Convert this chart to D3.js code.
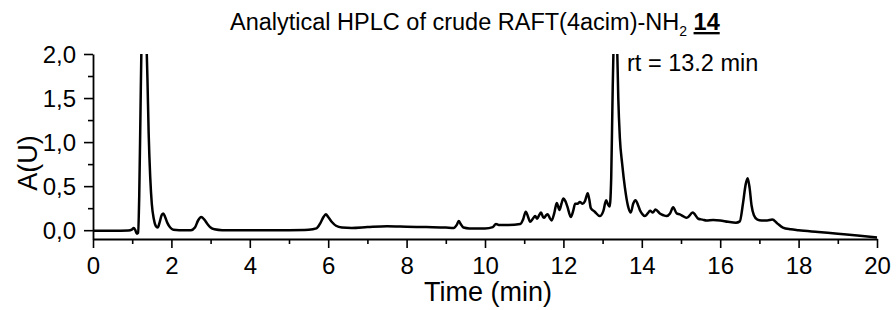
<!DOCTYPE html>
<html><head><meta charset="utf-8">
<script src="https://cdn.jsdelivr.net/npm/d3@7"></script>
<style>
html,body{margin:0;padding:0;background:#fff;}
svg{display:block;font-family:"Liberation Sans",Arial,sans-serif;}
</style></head>
<body>
<svg id="c" width="896" height="310"></svg>
<script>
const times = [0,0.5,0.9,1.0,1.04,1.08,1.12,1.15,1.18,1.21,1.24,1.28,1.32,1.36,1.39,1.42,1.46,1.5,1.55,1.6,1.65,1.7,1.75,1.79,1.84,1.9,1.97,2.05,2.2,2.5,2.6,2.68,2.76,2.84,2.92,3.0,3.1,3.3,4.0,5.0,5.5,5.7,5.8,5.88,5.94,6.0,6.1,6.2,6.35,6.6,7.0,7.5,8.0,8.5,9.0,9.2,9.28,9.33,9.38,9.45,9.6,10.0,10.2,10.28,10.35,10.6,10.9,10.97,11.04,11.1,11.15,11.22,11.28,11.33,11.38,11.43,11.48,11.51,11.56,11.6,11.65,11.7,11.77,11.83,11.9,11.95,12.0,12.05,12.1,12.19,12.25,12.3,12.36,12.42,12.49,12.55,12.62,12.66,12.7,12.8,12.93,13.02,13.09,13.14,13.18,13.22,13.25,13.28,13.33,13.37,13.4,13.44,13.5,13.57,13.65,13.72,13.78,13.84,13.9,13.95,14.02,14.08,14.15,14.21,14.28,14.35,14.46,14.55,14.63,14.72,14.8,14.89,14.97,15.05,15.15,15.3,15.44,15.55,15.65,15.82,16.0,16.2,16.4,16.5,16.58,16.65,16.7,16.75,16.8,16.86,16.95,17.05,17.2,17.33,17.45,17.6,17.8,18.0,18.5,19.0,19.5,20.0];
const absorb = [-0.005,-0.005,-0.003,0.01,0.025,0.0,-0.04,-0.03,0.4,1.3,2.2,2.6,2.6,2.2,1.7,1.1,0.6,0.3,0.13,0.05,0.03,0.09,0.17,0.19,0.15,0.08,0.03,0.005,0.0,0.0,0.03,0.11,0.15,0.12,0.07,0.03,0.01,0.0,-0.002,0.0,0.005,0.02,0.08,0.15,0.18,0.15,0.09,0.05,0.03,0.025,0.035,0.045,0.04,0.035,0.03,0.025,0.06,0.105,0.07,0.03,0.02,0.02,0.035,0.07,0.06,0.06,0.07,0.12,0.21,0.15,0.095,0.13,0.16,0.13,0.17,0.2,0.15,0.14,0.17,0.18,0.14,0.11,0.2,0.31,0.23,0.3,0.36,0.33,0.27,0.15,0.22,0.30,0.30,0.32,0.30,0.33,0.42,0.35,0.25,0.21,0.16,0.22,0.34,0.29,0.27,0.6,1.4,2.1,2.4,2.1,1.5,1.05,0.75,0.48,0.27,0.2,0.3,0.34,0.29,0.23,0.18,0.16,0.19,0.22,0.2,0.235,0.19,0.17,0.16,0.19,0.26,0.19,0.18,0.16,0.14,0.2,0.13,0.12,0.11,0.115,0.11,0.095,0.085,0.1,0.3,0.52,0.59,0.48,0.28,0.17,0.12,0.11,0.11,0.12,0.08,0.03,0.01,0.0,-0.02,-0.04,-0.06,-0.083];
const xTicks = [0,2,4,6,8,10,12,14,16,18,20];
const xMinor = [1,3,5,7,9,11,13,15,17,19];
const yTicks = [0,0.5,1.0,1.5,2.0];
const yMinor = [0.25,0.75,1.25,1.75];

const svg = d3.select("#c");
const x = d3.scaleLinear().domain([0,20]).range([93,877]);
const y = d3.scaleLinear().domain([-0.1,2.0]).range([239,54]);
const fmt = d => d3.format(".1f")(d).replace(".", ",");

const gx = svg.append("g").attr("transform","translate(0,239)");
gx.call(d3.axisBottom(x).tickValues(xMinor).tickSize(5).tickFormat(""));
gx.call(g=>g.select(".domain").remove());
const gxM = svg.append("g").attr("transform","translate(0,239)")
  .call(d3.axisBottom(x).tickValues(xTicks).tickSize(9).tickSizeOuter(0).tickPadding(9).tickFormat(d3.format("d")));
const gy = svg.append("g").attr("transform","translate(93,0)");
gy.call(d3.axisLeft(y).tickValues(yMinor).tickSize(5).tickFormat(""));
gy.call(g=>g.select(".domain").remove());
const gyM = svg.append("g").attr("transform","translate(93,0)")
  .call(d3.axisLeft(y).tickValues(yTicks).tickSize(9).tickSizeOuter(0).tickPadding(8).tickFormat(fmt));

svg.selectAll(".tick line").attr("stroke","#000").attr("stroke-width",1.6);
svg.selectAll(".domain").attr("stroke","#000").attr("stroke-width",1.8);
svg.selectAll(".tick text").attr("fill","#000").style("font-size","24px").style("font-family","'Liberation Sans',Arial,sans-serif");
gyM.selectAll(".tick text").attr("dy","0.35em");

svg.append("clipPath").attr("id","clp").append("rect")
  .attr("x",x(0)).attr("y",y(2.0)).attr("width",x(20)-x(0)+2).attr("height",y(-0.1)-y(2.0));

const pts = times.map((t,i)=>[t,absorb[i]]);
svg.append("path").datum(pts)
  .attr("clip-path","url(#clp)")
  .attr("fill","none").attr("stroke","#000").attr("stroke-width",2.5)
  .attr("stroke-linejoin","round")
  .attr("d", d3.line().x(d=>x(d[0])).y(d=>y(d[1])).curve(d3.curveMonotoneX));

const title = svg.append("text").attr("x",230).attr("y",30).style("font-size","23.5px").attr("fill","#000");
title.append("tspan").text("Analytical HPLC of crude RAFT(4acim)-NH");
title.append("tspan").text("2").style("font-size","14px").attr("dy","6");
title.append("tspan").text(" ").attr("dy","-6");
title.append("tspan").text("14").style("font-weight","bold").style("text-decoration","underline");

svg.append("text").attr("x",627).attr("y",71).style("font-size","23.5px").attr("fill","#000").text("rt = 13.2 min");

svg.append("text").attr("x",488).attr("y",301).attr("text-anchor","middle").style("font-size","27px").attr("fill","#000").text("Time (min)");
svg.append("text").attr("transform","translate(37,163) rotate(-90)").attr("text-anchor","middle").style("font-size","27px").attr("fill","#000").text("A(U)");
</script>
</body></html>
